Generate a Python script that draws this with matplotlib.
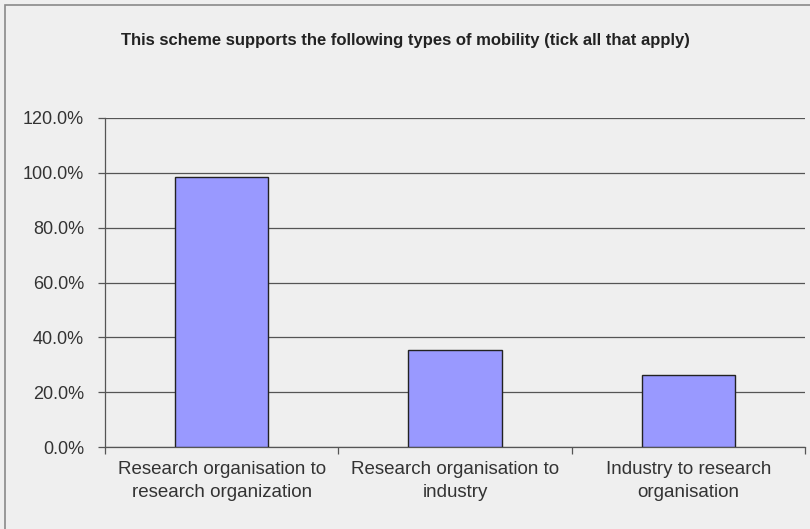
import matplotlib
matplotlib.use("Agg")
import matplotlib.pyplot as plt
from matplotlib.patches import Rectangle
from matplotlib.ticker import FixedLocator, NullFormatter

categories = ["Research organisation to\nresearch organization",
              "Research organisation to\nindustry",
              "Industry to research\norganisation"]
values = [98.3, 35.3, 26.1]
y_ticks = [0, 20, 40, 60, 80, 100, 120]
y_tick_labels = ["0.0%", "20.0%", "40.0%", "60.0%", "80.0%", "100.0%", "120.0%"]
title = "This scheme supports the following types of mobility (tick all that apply)"

plt.rcParams["font.family"] = ["Liberation Sans", "DejaVu Sans"]

W, H = 810, 529
fig = plt.figure(figsize=(W / 100, H / 100), dpi=100)
bg = "#efefef"
fig.patch.set_facecolor(bg)

# outer chart border (top and left edges visible)
fig.add_artist(Rectangle((5 / W, -0.05), 2.0, 1 - 5 / H + 0.05, transform=fig.transFigure,
                         fill=False, edgecolor="#8a8a8a", linewidth=1.2))

ax = fig.add_axes([105 / W, 1 - 447 / H, (805 - 105) / W, (447 - 118) / H])
ax.set_facecolor(bg)

x = range(len(categories))
ax.bar(x, values, width=0.4, color="#9999ff", edgecolor="#222222", linewidth=1.0, zorder=3)

ax.set_xlim(-0.5, len(categories) - 0.5)
ax.set_ylim(0, 120)
ax.set_yticks(y_ticks)
ax.set_yticklabels(y_tick_labels, fontsize=13, color="#333333")
ax.yaxis.grid(True, color="#555555", linewidth=0.9, zorder=0)
ax.tick_params(axis="y", length=5, width=0.9, color="#555555", pad=10)

# category labels centred on bars, tick marks at category boundaries
ax.set_xticks(list(x))
ax.set_xticklabels(categories, fontsize=13.5, color="#333333", linespacing=1.45)
ax.tick_params(axis="x", which="major", length=0, pad=10)
ax.xaxis.set_minor_locator(FixedLocator([-0.5, 0.5, 1.5, 2.5]))
ax.xaxis.set_minor_formatter(NullFormatter())
ax.tick_params(axis="x", which="minor", length=5, width=0.9, color="#555555", direction="out")

for s in ["top", "right"]:
    ax.spines[s].set_visible(False)
for s in ["left", "bottom"]:
    ax.spines[s].set_color("#555555")
    ax.spines[s].set_linewidth(0.9)

fig.text(405 / W, 1 - 40 / H, title, ha="center", va="center", fontsize=12,
         fontweight="bold", color="#222222")

fig.savefig("out.png", dpi=100, facecolor=fig.get_facecolor())
